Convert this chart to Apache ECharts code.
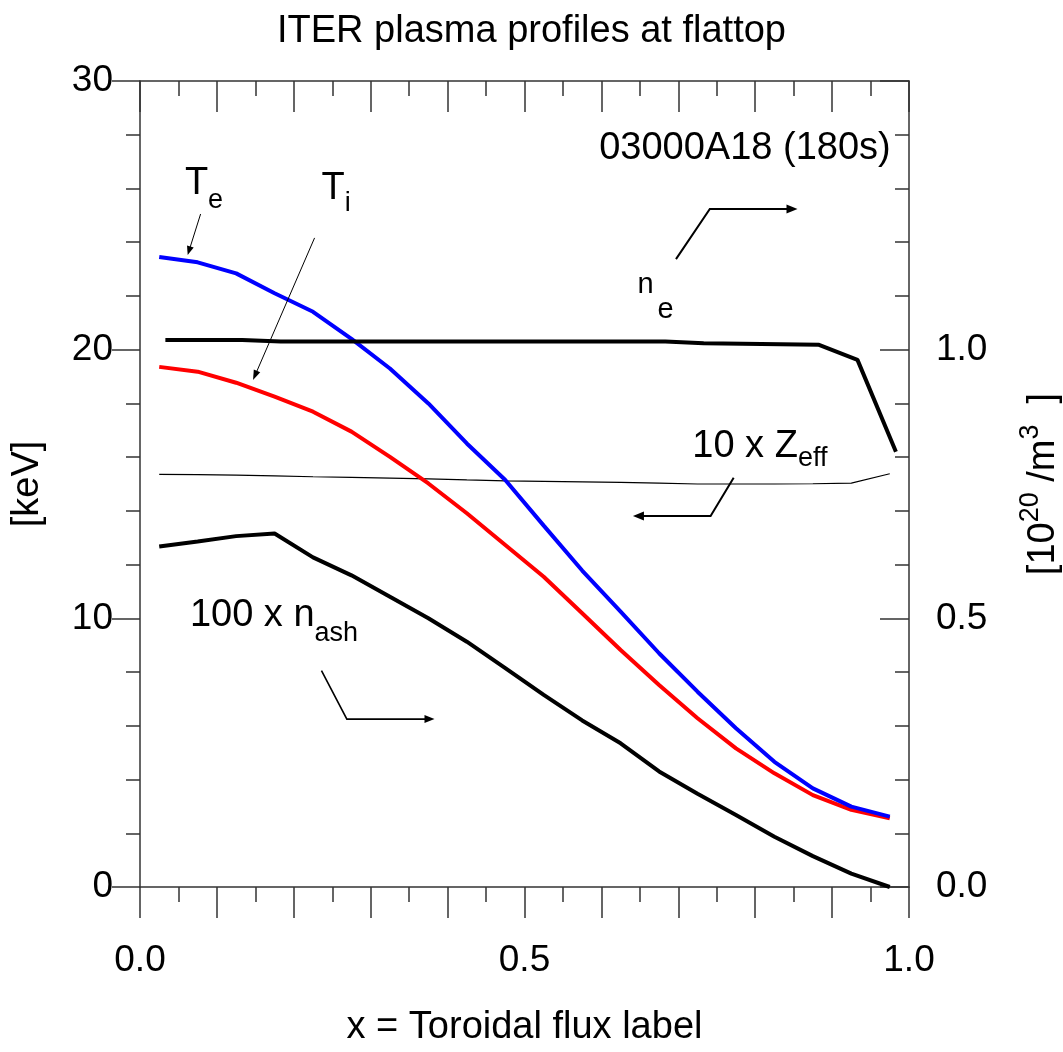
<!DOCTYPE html>
<html>
<head>
<meta charset="utf-8">
<script src="https://cdn.jsdelivr.net/npm/echarts@6.0.0/dist/echarts.min.js"></script>
<style>
html,body{margin:0;padding:0;background:#fff;}
#c{width:1063px;height:1052px;}
</style>
</head>
<body>
<div id="c"></div>
<script>
const FONT = '"Liberation Sans", Arial, Helvetica, sans-serif';

// ---- data ----
const xProfile = [0.025,0.075,0.125,0.175,0.225,0.275,0.325,0.375,0.425,0.475,0.525,0.575,0.625,0.675,0.725,0.775,0.825,0.875,0.925,0.975];
const teKeV    = [23.45,23.25,22.84,22.10,21.41,20.40,19.30,18.00,16.51,15.15,13.45,11.78,10.25,8.70,7.27,5.91,4.66,3.67,2.99,2.62];
const tiKeV    = [19.36,19.18,18.77,18.25,17.69,16.95,16.01,15.02,13.91,12.73,11.55,10.19,8.82,7.52,6.28,5.16,4.23,3.42,2.87,2.56];
const nAsh100  = [12.67,12.86,13.06,13.16,12.27,11.60,10.80,10.00,9.13,8.15,7.15,6.20,5.35,4.30,3.47,2.68,1.87,1.15,0.50,0.00];
const zEff10   = [15.36,15.35,15.33,15.30,15.27,15.25,15.22,15.19,15.15,15.12,15.10,15.08,15.06,15.03,15.00,15.00,15.00,15.01,15.03,15.38];
const xNe      = [0.033,0.083,0.133,0.183,0.233,0.283,0.333,0.383,0.433,0.483,0.533,0.583,0.633,0.683,0.733,0.783,0.833,0.883,0.933,0.983];
const neE20    = [1.018,1.018,1.018,1.015,1.015,1.015,1.015,1.015,1.015,1.015,1.015,1.015,1.015,1.015,1.012,1.011,1.010,1.009,0.981,0.810];

const xTickLabels = ['0.0','0.5','1.0'];
const leftTickLabels = ['0','10','20','30'];
const rightTickLabels = ['0.0','0.5','1.0'];

// annotation anchors in data coordinates (left axis units)
const arrowTe   = [[0.0788,25.05],[0.062,23.52]];
const arrowTi   = [[0.227,24.16],[0.147,18.87]];
const arrowNe   = [[0.697,23.37],[0.741,25.24],[0.855,25.24]];
const arrowZeff = [[0.772,15.23],[0.742,13.81],[0.641,13.81]];
const arrowAsh  = [[0.236,8.05],[0.269,6.25],[0.383,6.25]];

const labelTe   = {at:[0.0584,25.68], main:'T', sub:'e', mainFs:38, subFs:27, delta:13, gap:0};
const labelTi   = {at:[0.2360,25.51], main:'T', sub:'i', mainFs:38, subFs:27, delta:11, gap:0};
const labelNe   = {at:[0.6468,22.03], main:'n', sub:'e', mainFs:29, subFs:29, delta:25, gap:4};
const labelZeff = {at:[0.7182,15.89], main:'10 x Z', sub:'eff', mainFs:38, subFs:27, delta:8, gap:0};
const labelAsh  = {at:[0.0649,9.63], main:'100 x n', sub:'ash', mainFs:38, subFs:27, delta:15, gap:0};
const labelRun  = {at:[0.9762,26.99], text:'03000A18 (180s)', fs:38};

const pairs = (xs, ys) => xs.map((x, i) => [x, ys[i]]);
const AX = {color:'#333', width:1.5};

const chart = echarts.init(document.getElementById('c'), null, {renderer:'canvas'});

const option = {
  animation: false,
  backgroundColor: '#fff',
  title: {
    text: 'ITER plasma profiles at flattop',
    left: 'center', top: 13, padding: 0,
    textStyle: {fontFamily: FONT, fontSize: 38, fontWeight: 'normal', color: '#000', lineHeight: 38}
  },
  grid: {left: 140, right: 154, top: 81, bottom: 165, containLabel: false, outerBoundsMode: 'none'},
  xAxis: [
    {
      type: 'value', position: 'bottom', min: 0, max: 1, interval: 0.1,
      axisLine: {show: true, onZero: false, lineStyle: AX},
      axisTick: {show: true, inside: false, length: 31, lineStyle: AX},
      minorTick: {show: true, splitNumber: 2, length: 15, lineStyle: AX},
      splitLine: {show: false}, minorSplitLine: {show: false},
      axisLabel: {
        margin: 55, fontFamily: FONT, fontSize: 37, color: '#000',
        formatter: v => { const r = Math.round(v * 10); return r % 5 === 0 ? xTickLabels[r / 5] : ''; }
      },
      name: 'x = Toroidal flux label', nameLocation: 'middle', nameGap: 122, nameMoveOverlap: false,
      nameTextStyle: {fontFamily: FONT, fontSize: 38, color: '#000'}
    },
    {
      type: 'value', position: 'top', min: 0, max: 1, interval: 0.1,
      axisLine: {show: true, onZero: false, lineStyle: AX},
      axisTick: {show: true, inside: true, length: 31, lineStyle: AX},
      minorTick: {show: true, splitNumber: 2, length: 15, lineStyle: AX},
      splitLine: {show: false}, axisLabel: {show: false}
    }
  ],
  yAxis: [
    {
      type: 'value', position: 'left', min: 0, max: 30, interval: 10,
      axisLine: {show: true, onZero: false, lineStyle: AX},
      axisTick: {show: true, inside: false, length: 28, lineStyle: AX},
      minorTick: {show: true, splitNumber: 5, length: 14, lineStyle: AX},
      splitLine: {show: false},
      axisLabel: {margin: 27, fontFamily: FONT, fontSize: 37, color: '#000',
        formatter: v => leftTickLabels[Math.round(v / 10)] || ''},
      name: '[keV]', nameLocation: 'middle', nameGap: 93, nameMoveOverlap: false,
      nameTextStyle: {fontFamily: FONT, fontSize: 38, color: '#000'}
    },
    {
      type: 'value', position: 'right', min: 0, max: 1.5, interval: 0.5,
      axisLine: {show: true, onZero: false, lineStyle: AX},
      axisTick: {show: true, inside: true, length: 29, lineStyle: AX},
      minorTick: {show: true, splitNumber: 5, length: 14, lineStyle: AX},
      splitLine: {show: false},
      axisLabel: {margin: 27, fontFamily: FONT, fontSize: 37, color: '#000',
        formatter: v => rightTickLabels[Math.round(v * 2)] || ''},
      name: '{n|[10}{s|20}{n| /m}{s|3}{n|  ]}', nameLocation: 'middle', nameGap: 108, nameMoveOverlap: false,
      nameTextStyle: {
        fontFamily: FONT, fontSize: 38, color: '#000',
        rich: {
          n: {fontFamily: FONT, fontSize: 38, height: 38, padding: [8, 0, 0, 0], verticalAlign: 'top', color: '#000'},
          s: {fontFamily: FONT, fontSize: 27, height: 27, verticalAlign: 'top', color: '#000'}
        }
      }
    }
  ],
  series: [
    {name: 'Zeff', type: 'line', xAxisIndex: 0, yAxisIndex: 0, data: pairs(xProfile, zEff10),
     symbol: 'none', silent: true, lineStyle: {color: '#000', width: 1.2}, z: 2},
    {name: 'Ti', type: 'line', xAxisIndex: 0, yAxisIndex: 0, data: pairs(xProfile, tiKeV),
     symbol: 'none', silent: true, lineStyle: {color: '#ff0000', width: 4}, z: 3},
    {name: 'Te', type: 'line', xAxisIndex: 0, yAxisIndex: 0, data: pairs(xProfile, teKeV),
     symbol: 'none', silent: true, lineStyle: {color: '#0000ff', width: 4}, z: 4},
    {name: 'nash', type: 'line', xAxisIndex: 0, yAxisIndex: 0, data: pairs(xProfile, nAsh100),
     symbol: 'none', silent: true, lineStyle: {color: '#000', width: 4}, z: 5},
    {name: 'ne', type: 'line', xAxisIndex: 0, yAxisIndex: 1, data: pairs(xNe, neE20),
     symbol: 'none', silent: true, lineStyle: {color: '#000', width: 4}, z: 6}
  ]
};
chart.setOption(option);

function toPx(p) { return chart.convertToPixel({xAxisIndex: 0, yAxisIndex: 0}, p); }

function arrow(pts, w, head, hw) {
  const p = pts.map(toPx);
  const n = p.length, tip = p[n - 1], prev = p[n - 2];
  const dx = tip[0] - prev[0], dy = tip[1] - prev[1];
  const len = Math.hypot(dx, dy), ux = dx / len, uy = dy / len;
  const bx = tip[0] - ux * head, by = tip[1] - uy * head;
  const nx = -uy, ny = ux;
  return [
    {type: 'polyline', silent: true, z: 10, shape: {points: p.slice(0, n - 1).concat([[bx + ux, by + uy]])},
     style: {stroke: '#000', lineWidth: w, fill: null}},
    {type: 'polygon', silent: true, z: 10,
     shape: {points: [tip, [bx + nx * hw, by + ny * hw], [bx - nx * hw, by - ny * hw]]},
     style: {fill: '#000', stroke: null}}
  ];
}

function subLabel(L) {
  const p = toPx(L.at);
  const top = p[1] - 0.8465 * L.mainFs;
  const P = L.delta + 0.8465 * (L.mainFs - L.subFs);
  return {
    type: 'text', silent: true, z: 10, x: p[0], y: top,
    style: {
      text: '{m|' + L.main + '}{s|' + L.sub + '}',
      align: 'left', verticalAlign: 'top', fill: '#000',
      fontFamily: FONT, fontSize: L.mainFs,
      rich: {
        m: {fontFamily: FONT, fontSize: L.mainFs, height: L.mainFs, verticalAlign: 'top', fill: '#000'},
        s: {fontFamily: FONT, fontSize: L.subFs, height: L.subFs, padding: [P, 0, 0, L.gap], verticalAlign: 'top', fill: '#000'}
      }
    }
  };
}

const g = [];
g.push(...arrow(arrowTe, 1, 9, 3.5));
g.push(...arrow(arrowTi, 1, 10, 3.5));
g.push(...arrow(arrowNe, 2, 11, 4.5));
g.push(...arrow(arrowZeff, 2, 11, 4.5));
g.push(...arrow(arrowAsh, 1.6, 10, 4));
[labelTe, labelTi, labelNe, labelZeff, labelAsh].forEach(L => g.push(subLabel(L)));
const pr = toPx(labelRun.at);
g.push({type: 'text', silent: true, z: 10, x: pr[0], y: pr[1] - 0.8465 * labelRun.fs,
  style: {text: labelRun.text, align: 'right', verticalAlign: 'top', fill: '#000',
    fontFamily: FONT, fontSize: labelRun.fs, lineHeight: labelRun.fs}});
chart.setOption({graphic: g});
</script>
</body>
</html>
